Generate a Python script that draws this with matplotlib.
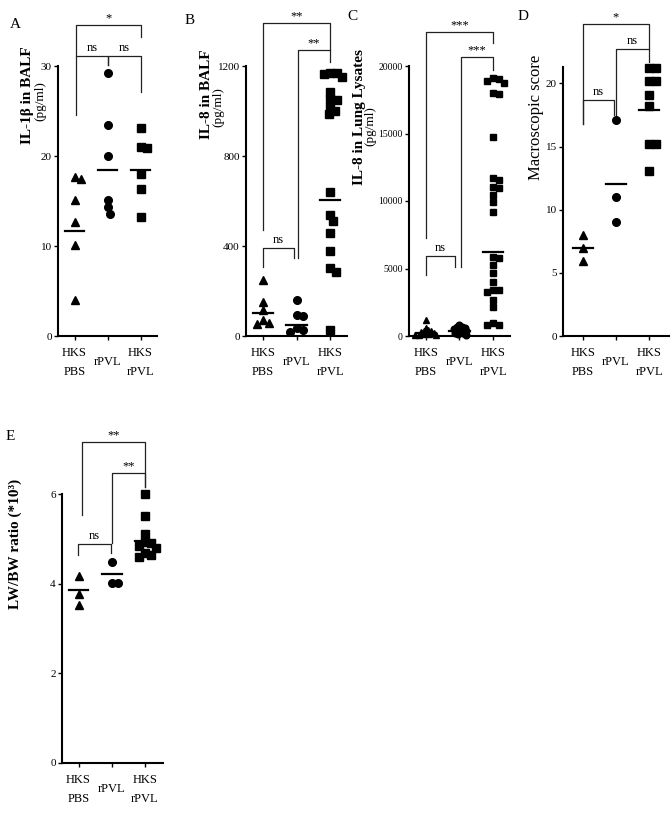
import numpy as np
import matplotlib
matplotlib.use("Agg")
import matplotlib.pyplot as plt

plt.rcParams['font.family'] = ['Liberation Serif', 'DejaVu Serif']

# ---------------- data ----------------
groups = ["HKS\nPBS", "rPVL", "HKS\nrPVL"]
markers = ["^", "o", "s"]

# A: IL-1b in BALF (pg/ml)
a_pbs = [17.5, 17.7, 15.1, 12.7, 10.1, 4.0]
a_rpvl = [29.2, 23.4, 20.0, 15.1, 13.6, 14.3]
a_hks_rpvl = [23.1, 21.0, 20.9, 18.0, 16.3, 13.2]
a_center = [11.7, 18.5, 18.5]
a_ticks = [0, 10, 20, 30]

# B: IL-8 in BALF (pg/ml)
b_pbs = [250, 151, 114, 73, 55, 58]
b_rpvl = [161, 92, 87, 35, 25, 20]
b_hks_rpvl = [1165, 1150, 1167, 1170, 1086, 1052, 1049, 1020, 1000, 985,
              641, 538, 512, 456, 379, 301, 283, 27]
b_center = [104, 47, 604]
b_ticks = [0, 400, 800, 1200]

# C: IL-8 in lung lysates (pg/ml)
c_pbs = [1150, 600, 450, 400, 350, 300, 250, 200, 150, 120, 100, 80, 50]
c_rpvl = [800, 700, 650, 600, 550, 500, 450, 400, 350, 300, 250, 200, 150, 100]
c_hks_rpvl = [18910, 19085, 19010, 18715, 17975, 17900, 14715,
              11680, 11555, 11060, 10935, 10440, 9950, 9210,
              5875, 5750, 5260, 4645, 4025, 3410, 3285, 3410, 2665, 2170,
              960, 810, 810]
c_center = [200, 350, 6245]
c_ticks = [0, 5000, 10000, 15000, 20000]

# D: Macroscopic score
d_pbs = [8.0, 7.0, 5.9]
d_rpvl = [17.1, 11.0, 9.0]
d_hks_rpvl = [21.2, 21.2, 20.2, 20.2, 19.1, 18.2, 15.2, 15.2, 13.1]
d_center = [7.0, 12.0, 17.9]
d_ticks = [0, 5, 10, 15, 20]

# E: LW/BW ratio
e_pbs = [4.17, 3.76, 3.53]
e_rpvl = [4.49, 4.02, 4.02]
e_hks_rpvl = [6.0, 5.5, 5.11, 4.9, 4.92, 4.79, 4.83, 4.68, 4.6, 4.64]
e_center = [3.85, 4.21, 4.96]
e_ticks = [0, 2, 4, 6]

# ---------------- figure ----------------
W, H = 672, 816
fig = plt.figure(figsize=(W / 100, H / 100), dpi=100)


def px_axes(left, right, top, bottom):
    return fig.add_axes([left / W, 1 - bottom / H, (right - left) / W, (bottom - top) / H])


def ftext(x, y, s, **kw):
    fig.text(x / W, 1 - y / H, s, **kw)


def swarm_offsets(ax, xc, ys, d_px):
    x0 = ax.transData.transform((xc, 0))[0]
    x1 = ax.transData.transform((xc + 1, 0))[0]
    ppu = x1 - x0
    ypx = [ax.transData.transform((xc, y))[1] for y in ys]
    order = np.argsort(ypx)[::-1]
    cands = [0.0]
    for k in range(1, 80):
        cands += [k * 0.5, -k * 0.5]
    placed = []
    offs = np.zeros(len(ys))
    for i in order:
        yp = ypx[i]
        for c in cands:
            if all((c - px) ** 2 + (yp - py) ** 2 >= d_px ** 2 for px, py in placed):
                break
        placed.append((c, yp))
        offs[i] = c / ppu
    return offs


def style_axes(ax, ticks, xlim, ylim, tick_fs=8):
    ax.set_xlim(*xlim)
    ax.set_ylim(*ylim)
    for s in ["top", "right"]:
        ax.spines[s].set_visible(False)
    for s in ["left", "bottom"]:
        ax.spines[s].set_linewidth(1.5)
    ax.set_yticks(ticks)
    ax.set_yticklabels([str(t) for t in ticks], fontsize=tick_fs)
    ax.set_xticks(range(3))
    ax.set_xticklabels(groups, fontsize=9, linespacing=1.8)
    for lab in ax.get_xticklabels():
        lab.set_verticalalignment("center")
    ax.tick_params(axis="y", length=3, width=1, pad=1.5)
    ax.tick_params(axis="x", length=3, width=1, pad=16)


def draw_groups(ax, series, centers, d_px=(6.5, 6.5, 6.5), sizes=(6.0, 5.5, 5.2)):
    for i, (vals, m) in enumerate(zip(series, markers)):
        offs = swarm_offsets(ax, i, vals, d_px[i])
        ax.plot(i + offs, vals, linestyle="none", marker=m, ms=sizes[i],
                color="black", mec="black", clip_on=False, zorder=3)
        ax.plot([i - 0.3, i + 0.3], [centers[i], centers[i]], color="black", lw=1.6, zorder=4)


def bracket(ax, x1, x2, y, yl, yr, text, off=1.5, fs=9):
    ax.plot([x1, x1, x2, x2], [yl, y, y, yr], color="#222222", lw=0.9, clip_on=False)
    ax.annotate(text, xy=((x1 + x2) / 2, y), xytext=(0, off), textcoords="offset points",
                ha="center", va="bottom", fontsize=fs, annotation_clip=False)


# ---- Panel A ----
axA = px_axes(58, 157, 66, 336)
style_axes(axA, a_ticks, (-0.5, 2.5), (0, 30))
draw_groups(axA, [a_pbs, a_rpvl, a_hks_rpvl], a_center)
bracket(axA, 0.05, 2.0, 34.6, 31.1, 33.2, "*", off=0.5)
bracket(axA, 0.05, 1.0, 31.1, 24.6, 30.1, "ns")
bracket(axA, 1.0, 2.0, 31.1, 30.1, 27.1, "ns")
ftext(15, 24, "A", fontsize=11, ha="center", va="center")
ftext(28, 95, "IL-1β in BALF", rotation=90, fontsize=11, fontweight="bold", ha="center", va="center")
ftext(40, 101, "(pg/ml)", rotation=90, fontsize=9.5, ha="center", va="center")

# ---- Panel B ----
axB = px_axes(246, 347, 66, 336)
style_axes(axB, b_ticks, (-0.5, 2.5), (0, 1200))
draw_groups(axB, [b_pbs, b_rpvl, b_hks_rpvl], b_center)
bracket(axB, 0.0, 2.0, 1391, 471, 1271, "**", off=0.5)
bracket(axB, 1.03, 2.0, 1271, 347, 1218, "**", off=0.5)
bracket(axB, 0.0, 0.92, 391, 307, 347, "ns")
ftext(190, 21, "B", fontsize=11, ha="center", va="center")
ftext(207, 94, "IL-8 in BALF", rotation=90, fontsize=11, fontweight="bold", ha="center", va="center")
ftext(218, 107, "(pg/ml)", rotation=90, fontsize=9.5, ha="center", va="center")

# ---- Panel C ----
axC = px_axes(409, 510, 66, 336)
style_axes(axC, c_ticks, (-0.5, 2.5), (0, 20000), tick_fs=7)
draw_groups(axC, [c_pbs, c_rpvl, c_hks_rpvl], c_center,
            d_px=(3.2, 3.2, 6.0), sizes=(4.8, 4.8, 5.0))
bracket(axC, 0.0, 2.0, 22518, 7259, 21700, "***", off=0.5)
bracket(axC, 1.03, 2.0, 20667, 5111, 19700, "***", off=0.5)
bracket(axC, 0.0, 0.88, 5926, 4518, 5111, "ns")
ftext(352, 17, "C", fontsize=11, ha="center", va="center")
ftext(359, 117, "IL-8 in Lung Lysates", rotation=90, fontsize=11, fontweight="bold", ha="center", va="center")
ftext(370, 126, "(pg/ml)", rotation=90, fontsize=9.5, ha="center", va="center")

# ---- Panel D ----
axD = px_axes(563, 669, 67, 336)
style_axes(axD, d_ticks, (-0.6, 2.6), (0, 21.3))
draw_groups(axD, [d_pbs, d_rpvl, d_hks_rpvl], d_center)
bracket(axD, 0.0, 2.0, 24.7, 16.8, 22.7, "*", off=0.5)
bracket(axD, 1.0, 2.0, 22.7, 17.5, 21.7, "ns")
bracket(axD, 0.0, 0.94, 18.7, 16.8, 17.5, "ns")
ftext(523, 17, "D", fontsize=11, ha="center", va="center")
ftext(536, 117, "Macroscopic score", rotation=90, fontsize=12, ha="center", va="center")

# ---- Panel E ----
axE = px_axes(62, 163, 494, 763)
style_axes(axE, e_ticks, (-0.5, 2.55), (0, 6))
draw_groups(axE, [e_pbs, e_rpvl, e_hks_rpvl], e_center)
bracket(axE, 0.1, 2.0, 7.16, 5.53, 6.16, "**", off=0.5)
bracket(axE, 1.0, 2.0, 6.47, 4.91, 6.16, "**", off=0.5)
bracket(axE, -0.03, 0.97, 4.89, 4.64, 4.68, "ns")
ftext(10, 437, "E", fontsize=11, ha="center", va="center")
ftext(15, 544, "LW/BW ratio (*10³)", rotation=90, fontsize=11, fontweight="bold", ha="center", va="center")

fig.savefig("out.png", dpi=100)
